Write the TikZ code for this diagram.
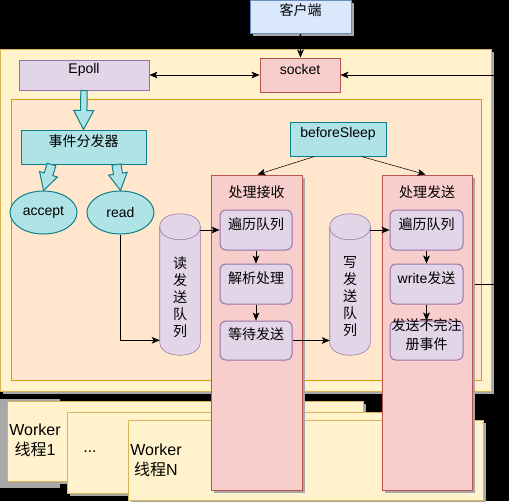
\documentclass[tikz,border=0pt]{standalone}
\usepackage{fontspec}
\setmainfont{Liberation Sans}
\newfontfamily\cjk{Noto Sans CJK SC}
\usetikzlibrary{arrows.meta,calc,fit,shadows,shapes.geometric}
\pgfdeclarelayer{bg}
\pgfdeclarelayer{mid}
\pgfsetlayers{bg,mid,main}
\definecolor{bfill}{HTML}{DAE8FC}\definecolor{bdraw}{HTML}{6C8EBF}
\definecolor{yfill}{HTML}{FFF2CC}\definecolor{ydraw}{HTML}{D6B656}
\definecolor{ofill}{HTML}{FFE6CC}\definecolor{odraw}{HTML}{D79B00}
\definecolor{pfill}{HTML}{E1D5E7}\definecolor{pdraw}{HTML}{9673A6}
\definecolor{rfill}{HTML}{F8CECC}\definecolor{rdraw}{HTML}{B85450}
\definecolor{tfill}{HTML}{B0E3E6}\definecolor{tdraw}{HTML}{0E8088}
\definecolor{shgray}{HTML}{A8A8A8}
\newcommand\mysize{\fontsize{10.5pt}{12.75pt}\selectfont}
\newcommand\flexarr[5]{%
  \coordinate (fa-h) at ($(#2)!#5!(#1)$);
  \draw[flex] ($(#1)!#3!90:(#2)$) -- ($(fa-h)!#3!-90:(#1)$) -- ($(fa-h)!#4!-90:(#1)$) -- (#2)
     -- ($(fa-h)!#4!90:(#1)$) -- ($(fa-h)!#3!90:(#1)$) -- ($(#1)!#3!-90:(#2)$) -- cycle;
}
\newcommand\cylpath[1]{%
  \filldraw[fill=pfill, draw=pdraw]
    ($(#1.north west)+(0,13)$) -- ($(#1.south west)+(0,-13)$)
    .. controls ($(#1.south west)+(0,4.33)$) and ($(#1.south east)+(0,4.33)$) .. ($(#1.south east)+(0,-13)$)
    -- ($(#1.north east)+(0,13)$)
    .. controls ($(#1.north east)+(0,-4.33)$) and ($(#1.north west)+(0,-4.33)$) .. ($(#1.north west)+(0,13)$) -- cycle;
  \draw[pdraw] ($(#1.north west)+(0,13)$) .. controls ($(#1.north west)+(0,30.33)$) and ($(#1.north east)+(0,30.33)$) .. ($(#1.north east)+(0,13)$);
}
\begin{document}
\begin{tikzpicture}[x=0.75pt,y=-0.75pt,font=\mysize,line width=0.75pt,
  bx/.style={draw, inner sep=0pt, line width=0.75pt},
  bluebox/.style={bx, fill=bfill, draw=bdraw},
  ylwbox/.style={bx, fill=yfill, draw=ydraw},
  orgbox/.style={bx, fill=ofill, draw=odraw},
  purbox/.style={bx, fill=pfill, draw=pdraw},
  redbox/.style={bx, fill=rfill, draw=rdraw},
  tealbox/.style={bx, fill=tfill, draw=tdraw},
  rbox/.style={purbox, rounded corners=4.5pt},
  shad/.style={drop shadow={shadow xshift=2.25pt, shadow yshift=-2.25pt, fill=shgray, opacity=1}},
  zh/.style={font=\mysize\cjk},
  arr/.style={-{Stealth[length=6pt,width=5pt,inset=1.5pt]}, draw=black},
  darr/.style={{Stealth[length=6pt,width=5pt,inset=1.5pt]}-{Stealth[length=6pt,width=5pt,inset=1.5pt]}, draw=black},
  flex/.style={fill=tfill, draw=tdraw, line width=0.75pt, line join=miter},
  wk/.style={align=center, font=\fontsize{12pt}{15pt}\selectfont},
]
\begin{pgfonlayer}{bg}
  \fill[black] (0,0) rectangle (509,501);
  \useasboundingbox (0,0) rectangle (509,501);
  \fill[shgray] (0,399) rectangle (60,488);
  \node[ylwbox, shad, fit={(7,401)(363,481)}] (w1) {};
  \node[wk] at (35,440) {Worker\\{\cjk 线程}1};
  \node[ylwbox, shad, fit={(67,412)(420,493)}] (w2) {};
  \node[wk] at (90,452) {...};
  \node[ylwbox, shad, fit={(128,420)(483,500)}] (w3) {};
  \node[wk] at (156,460) {Worker\\{\cjk 线程}N};
  \node[bluebox, shad, zh, fit={(250,0)(351,33)}] (client) {客户端};
  \node[ylwbox, shad, fit={(0,49)(491,391)}] (mainbox) {};
  \node[orgbox, fit={(11,99)(481,380)}] (inner) {};
\end{pgfonlayer}

\node[purbox, fit={(19,60)(149,90)}] (epoll) {Epoll};
\node[redbox, fit={(260,58)(340,92)}] (socket) {socket};
\draw[darr] (client.south) -- (client.south |- socket.north);
\draw[darr] (epoll) -- (socket);

\node[tealbox, zh, fit={(21,130)(146,164)}] (disp) {事件分发器};
\node[tealbox, fit={(290,122)(386,156)}] (before) {beforeSleep};
\node[ellipse, tealbox, minimum width=50.25pt, minimum height=32.25pt] (accept) at (43.5,212.5) {accept};
\node[ellipse, tealbox, minimum width=50.25pt, minimum height=32.25pt] (read) at (120.5,212.5) {read};

\flexarr{epoll.south}{disp.north}{2.4pt}{7.5pt}{14.25pt}
\coordinate (fa1) at ($(disp.south west)+(31,0)$);
\coordinate (fa2) at ($(disp.south west)+(96,0)$);
\flexarr{fa1}{accept.north}{3.4pt}{7pt}{12.75pt}
\flexarr{fa2}{read.north}{3.4pt}{7pt}{12.75pt}

% queues
\node[inner sep=0pt, fit={(160,214)(200,355)}] (q1) {};
\cylpath{q1}
\node[align=center, font=\fontsize{10.5pt}{12.75pt}\selectfont\cjk] at (180,297) {读\\发\\送\\队\\列};
\node[inner sep=0pt, fit={(330,214)(370,355)}] (q2) {};
\cylpath{q2}
\node[align=center, font=\fontsize{10.5pt}{12.75pt}\selectfont\cjk] at (350,297) {写\\发\\送\\队\\列};

% containers
\node[redbox, shad, fit={(211,175)(302,490)}] (recv) {};
\node[zh] at (256.5,192) {处理接收};
\node[redbox, shad, fit={(382,175)(472,490)}] (send) {};
\node[zh] at (427,192) {处理发送};

\node[rbox, zh, fit={(220,210)(292,250)}] (r1) {遍历队列};
\node[rbox, zh, fit={(220,264)(292,304)}] (r2) {解析处理};
\node[rbox, zh, fit={(220,321)(292,360)}] (r3) {等待发送};
\node[rbox, zh, fit={(390,210)(463,250)}] (s1) {遍历队列};
\node[rbox, fit={(390,264)(463,304)}] (s2) {write{\cjk 发送}};
\node[rbox, align=center, font=\fontsize{10.5pt}{14.25pt}\selectfont\cjk, fit={(390,321)(463,360)}] (s3) {发送不完注\\册事件};

% connectors
\draw[arr] (read.south) |- ($(q1.south west)+(0,-15)$);
\draw[arr] (r1.west -| q1.east) -- (r1.west);
\draw[arr] (r1) -- (r2);
\draw[arr] (r2) -- (r3);
\draw[arr] (r3.east) -- (r3.east -| q2.west);
\draw[arr] (s1.west -| q2.east) -- (s1.west);
\draw[arr] (s1) -- (s2);
\draw[arr] (s2) -- (s3);
\draw[arr] ($(before.south west)+(25,0)$) -- ($(recv.north west)+(47,0)$);
\draw[arr] ($(before.south west)+(72,0)$) -- ($(send.north west)+(44,0)$);

\coordinate (rr) at (495,0);
\begin{pgfonlayer}{mid}
  \draw[arr] (s2.east) -- (s2.east -| rr) -- (rr |- socket.east) -- (socket.east);
\end{pgfonlayer}
\end{tikzpicture}
\end{document}
